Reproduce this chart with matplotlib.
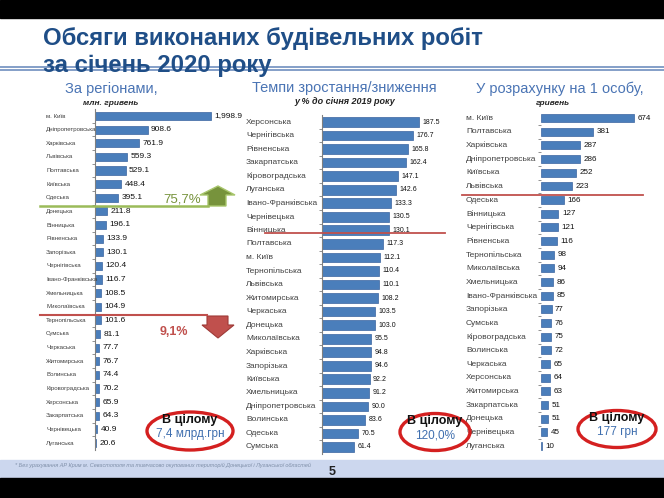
import matplotlib
matplotlib.use('Agg')
import matplotlib.pyplot as plt
from matplotlib.patches import Rectangle, Polygon, Ellipse

plt.rcParams['font.family'] = ['Liberation Sans', 'DejaVu Sans']

W, H = 664, 498

# --- data ---
reg_names = ['м. Київ', 'Дніпропетровська', 'Харківська', 'Львівська', 'Полтавська',
             'Київська', 'Одеська', 'Донецька', 'Вінницька', 'Рівненська', 'Запорізька',
             'Чернігівська', 'Івано-Франківська', 'Хмельницька', 'Миколаївська',
             'Тернопільська', 'Сумська', 'Черкаська', 'Житомирська', 'Волинська',
             'Кіровоградська', 'Херсонська', 'Закарпатська', 'Чернівецька', 'Луганська']
reg_values = [1998.9, 908.6, 761.9, 559.3, 529.1, 448.4, 395.1, 211.8, 196.1, 133.9, 130.1,
              120.4, 116.7, 108.5, 104.9, 101.6, 81.1, 77.7, 76.7, 74.4, 70.2, 65.9, 64.3,
              40.9, 20.6]

rate_names = ['Херсонська', 'Чернігівська', 'Рівненська', 'Закарпатська', 'Кіровоградська',
              'Луганська', 'Івано-Франківська', 'Чернівецька', 'Вінницька', 'Полтавська',
              'м. Київ', 'Тернопільська', 'Львівська', 'Житомирська', 'Черкаська', 'Донецька',
              'Миколаївська', 'Харківська', 'Запорізька', 'Київська', 'Хмельницька',
              'Дніпропетровська', 'Волинська', 'Одеська', 'Сумська']
rate_values = [187.5, 176.7, 165.8, 162.4, 147.1, 142.6, 133.3, 130.5, 130.1, 117.3, 112.1,
               110.4, 110.1, 108.2, 103.5, 103.0, 95.5, 94.8, 94.6, 92.2, 91.2, 90.0, 83.6,
               70.5, 61.4]

pc_names = ['м. Київ', 'Полтавська', 'Харківська', 'Дніпропетровська', 'Київська', 'Львівська',
            'Одеська', 'Вінницька', 'Чернігівська', 'Рівненська', 'Тернопільська',
            'Миколаївська', 'Хмельницька', 'Івано-Франківська', 'Запорізька', 'Сумська',
            'Кіровоградська', 'Волинська', 'Черкаська', 'Херсонська', 'Житомирська',
            'Закарпатська', 'Донецька', 'Чернівецька', 'Луганська']
pc_values = [674, 381, 287, 286, 252, 223, 166, 127, 121, 116, 98, 94, 86, 85, 77, 76, 75,
             72, 65, 64, 63, 51, 51, 45, 10]

BAR = '#4A7EBB'
BAR_EDGE = '#3A64A0'
TITLE = '#1F4E87'
SUB = '#4A74B4'


def rect(x0, y0, x1, y1):
    return [x0 / W, 1 - y1 / H, (x1 - x0) / W, (y1 - y0) / H]


fig = plt.figure(figsize=(W / 100, H / 100), dpi=100)

# background layer in pixel coordinates
bg = fig.add_axes([0, 0, 1, 1], zorder=0)
bg.set_xlim(0, W)
bg.set_ylim(H, 0)
bg.axis('off')
bg.add_patch(Rectangle((0, 0), W, 18, color='black'))
bg.add_patch(Rectangle((0, 460), W, 18, color='#CCD7EE'))
bg.add_patch(Rectangle((0, 478), W, 20, color='black'))
bg.plot([0, W], [67, 67], color='#6F8FBF', lw=1.2)
bg.plot([0, W], [70, 70], color='#6F8FBF', lw=1.2)
bg.text(43, 38, 'Обсяги виконаних будівельних робіт', fontsize=17.2, fontweight='bold',
        color=TITLE, va='center', ha='left')
bg.text(43, 65, 'за січень 2020 року', fontsize=17.2, fontweight='bold',
        color=TITLE, va='center', ha='left')

bg.text(111, 89, 'За регіонами,', fontsize=10.5, color=SUB, ha='center', va='center')
bg.text(111, 103, 'млн. гривень', fontsize=6, style='italic', fontweight='bold',
        color='#222222', ha='center', va='center')
bg.text(344, 88, 'Темпи зростання/зниження', fontsize=10.5, color=SUB, ha='center', va='center')
bg.text(345, 101, 'у % до січня 2019 року', fontsize=6.5, style='italic', fontweight='bold',
        color='#222222', ha='center', va='center')
bg.text(560, 89, 'У розрахунку на 1 особу,', fontsize=10.5, color=SUB, ha='center', va='center')
bg.text(553, 103, 'гривень', fontsize=6, style='italic', fontweight='bold',
        color='#222222', ha='center', va='center')

bg.text(15, 465, '* Без урахування АР Крим м. Севастополя та тимчасово окупованих територій '
        'Донецької і Луганської областей', fontsize=4, style='italic', color='#7F8FA8',
        ha='left', va='center')
bg.text(332, 472, '5', fontsize=9, fontweight='bold', color='#222222', ha='center', va='center')


def bar_panel(x_axis, x_right, y_first, y_last, xmax, names, values, label_x, height, fmt,
              show_spine=True, fs=6, name_fs=6):
    n = len(names)
    step = (y_last - y_first) / (n - 1)
    ax = fig.add_axes(rect(x_axis, y_first - step / 2, x_right, y_last + step / 2), zorder=2)
    ax.patch.set_alpha(0)
    pos = list(range(n))
    ax.barh(pos, values, height=height, color=BAR, edgecolor=BAR_EDGE, linewidth=0.5)
    ax.set_xlim(0, xmax)
    ax.set_ylim(n - 0.5, -0.5)
    for s in ['top', 'right', 'bottom']:
        ax.spines[s].set_visible(False)
    ax.spines['left'].set_color('#808080')
    ax.spines['left'].set_linewidth(0.8)
    ax.spines['left'].set_visible(show_spine)
    ax.set_xticks([])
    ax.set_yticks([])
    ax.set_yticks([p + 0.5 for p in pos[:-1]], minor=True)
    ax.tick_params(axis='y', which='minor', length=2.5, width=0.6, color='#808080')
    lx = (label_x - x_axis) / (x_right - x_axis)
    tr = ax.get_yaxis_transform()
    for p, name, v in zip(pos, names, values):
        ax.text(lx, p, name, transform=tr, fontsize=name_fs, color='#404040',
                ha='left', va='center')
        ax.annotate(fmt(v), (v, p), xytext=(2.5, 0), textcoords='offset points',
                    fontsize=fs, color='#111111', ha='left', va='center')
    return ax


bar_panel(95, 250, 116, 443, 2678, reg_names, reg_values, 46, 0.6,
          lambda v: f'{v:,.1f}', fs=6, name_fs=4.4)
bar_panel(322, 452, 122, 447, 252, rate_names, rate_values, 246, 0.72,
          lambda v: f'{v:.1f}', fs=5, name_fs=6)
bar_panel(541, 651, 118, 446, 800, pc_names, pc_values, 466, 0.6,
          lambda v: f'{v:d}', show_spine=False, fs=5.8, name_fs=6)

# foreground decorations
fg = fig.add_axes([0, 0, 1, 1], zorder=5)
fg.set_xlim(0, W)
fg.set_ylim(H, 0)
fg.axis('off')
fg.patch.set_alpha(0)

fg.plot([40, 208], [206, 206], color='#9BBB59', lw=1.8)
fg.add_patch(Polygon([(208, 206), (208, 195), (200, 195), (218, 186), (235, 195),
                      (226, 195), (226, 206)], closed=True, facecolor='#77933C',
                     edgecolor='#A8C66C', lw=1))
fg.text(182, 199, '75,7%', fontsize=9.5, color='#77933C', ha='center', va='center')

fg.plot([40, 207], [315, 315], color='#C0504D', lw=1.5)
fg.add_patch(Polygon([(207, 316), (228, 316), (228, 325), (234, 325), (218, 338),
                      (202, 325), (207, 325)], closed=True, facecolor='#C0504D',
                     edgecolor='#9E3A37', lw=0.8))
fg.text(174, 332, '9,1%', fontsize=9, fontweight='bold', color='#C0504D', ha='center',
        va='center')

fg.plot([265, 445], [233, 233], color='#C0504D', lw=1.3)
fg.plot([462, 643], [195, 195], color='#C0504D', lw=1.3)

for cx, cy, w, h, line2 in [(190, 431, 86, 38, '7,4 млрд.грн'),
                            (435, 432, 70, 37, '120,0%'),
                            (617, 429, 78, 37, '177 грн')]:
    fg.add_patch(Ellipse((cx, cy), w, h, fill=False, edgecolor='#D42020', lw=2.4))
    fg.text(cx, cy - 11, 'В цілому', fontsize=9, fontweight='bold', color='#111111',
            ha='center', va='center')
    fg.text(cx, cy + 3, line2, fontsize=8.5, color='#3F6FAF', ha='center', va='center')

fig.savefig('out.png', dpi=100)
